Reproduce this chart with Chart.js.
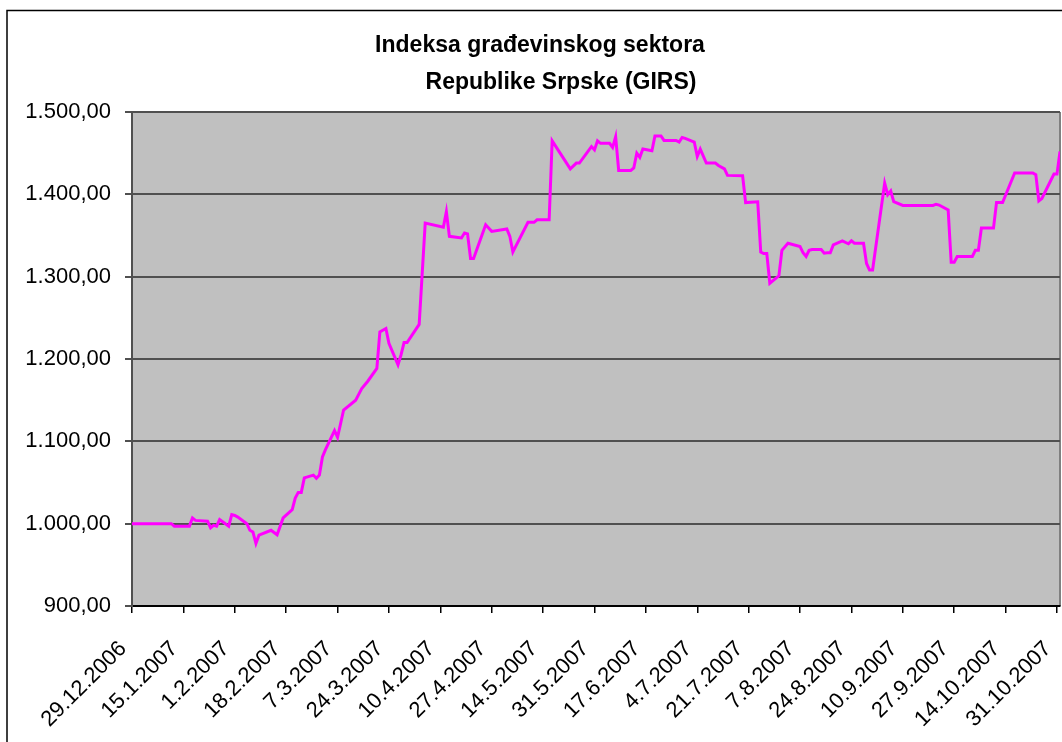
<!DOCTYPE html>
<html>
<head>
<meta charset="utf-8">
<script src="https://cdn.jsdelivr.net/npm/chart.js@4.4.1/dist/chart.umd.min.js"></script>
<style>
  html, body { margin: 0; padding: 0; background: #fff; }
  #wrap { width: 1062px; height: 742px; }
</style>
</head>
<body>
<div id="wrap"><canvas id="girs" width="1062" height="742"></canvas></div>
<script>
// GIRS index (trading days only, the axis is by calendar day)
const dates = [
  '29.12.2006', '11.1.2007', '12.1.2007', '17.1.2007', '18.1.2007', '19.1.2007', '23.1.2007', '24.1.2007',
  '25.1.2007', '26.1.2007', '27.1.2007', '30.1.2007', '31.1.2007', '1.2.2007', '2.2.2007', '5.2.2007',
  '6.2.2007', '7.2.2007', '8.2.2007', '9.2.2007', '13.2.2007', '15.2.2007', '17.2.2007', '20.2.2007',
  '21.2.2007', '22.2.2007', '23.2.2007', '24.2.2007', '27.2.2007', '28.2.2007', '1.3.2007', '2.3.2007',
  '3.3.2007', '6.3.2007', '7.3.2007', '9.3.2007', '13.3.2007', '14.3.2007', '15.3.2007', '17.3.2007',
  '20.3.2007', '21.3.2007', '23.3.2007', '24.3.2007', '27.3.2007', '28.3.2007', '29.3.2007', '30.3.2007',
  '3.4.2007', '5.4.2007', '11.4.2007', '12.4.2007', '13.4.2007', '17.4.2007', '18.4.2007', '19.4.2007',
  '20.4.2007', '21.4.2007', '25.4.2007', '27.4.2007', '2.5.2007', '3.5.2007', '4.5.2007', '9.5.2007',
  '11.5.2007', '12.5.2007', '16.5.2007', '17.5.2007', '23.5.2007', '25.5.2007', '26.5.2007', '30.5.2007',
  '31.5.2007', '1.6.2007', '2.6.2007', '5.6.2007', '6.6.2007', '7.6.2007', '8.6.2007', '12.6.2007',
  '13.6.2007', '14.6.2007', '15.6.2007', '16.6.2007', '19.6.2007', '20.6.2007', '22.6.2007', '23.6.2007',
  '27.6.2007', '28.6.2007', '29.6.2007', '30.6.2007', '3.7.2007', '4.7.2007', '5.7.2007', '7.7.2007',
  '10.7.2007', '11.7.2007', '13.7.2007', '14.7.2007', '19.7.2007', '20.7.2007', '24.7.2007', '25.7.2007',
  '26.7.2007', '27.7.2007', '28.7.2007', '31.7.2007', '1.8.2007', '3.8.2007', '7.8.2007', '8.8.2007',
  '9.8.2007', '10.8.2007', '11.8.2007', '14.8.2007', '15.8.2007', '16.8.2007', '17.8.2007', '18.8.2007',
  '21.8.2007', '23.8.2007', '24.8.2007', '25.8.2007', '28.8.2007', '29.8.2007', '30.8.2007', '31.8.2007',
  '4.9.2007', '5.9.2007', '6.9.2007', '7.9.2007', '10.9.2007', '20.9.2007', '21.9.2007', '22.9.2007',
  '25.9.2007', '26.9.2007', '27.9.2007', '28.9.2007', '3.10.2007', '4.10.2007', '5.10.2007', '6.10.2007',
  '10.10.2007', '11.10.2007', '13.10.2007', '17.10.2007', '23.10.2007', '24.10.2007', '25.10.2007', '26.10.2007',
  '30.10.2007', '31.10.2007', '1.11.2007'
];
const values = [
  1000, 1000, 997, 997, 1007, 1004, 1003, 995,
  998, 997, 1005, 997, 1011, 1010, 1008, 1000,
  992, 990, 976, 986, 992, 986.5, 1007, 1017,
  1031, 1038, 1038, 1055.6, 1059, 1055, 1059, 1081,
  1090, 1113, 1105, 1138, 1150, 1157, 1164, 1173,
  1188.6, 1233, 1237, 1219, 1193, 1205, 1220, 1220,
  1242, 1365, 1360, 1379, 1349, 1347, 1353, 1352,
  1322, 1322, 1363, 1355, 1358, 1349, 1330, 1366,
  1366, 1369, 1369, 1465, 1431, 1438, 1438, 1458,
  1454, 1465, 1462, 1462, 1457, 1470, 1429, 1429,
  1432, 1450, 1445, 1455, 1453, 1471, 1471, 1465.5,
  1465.5, 1463.5, 1469, 1468, 1463.5, 1446, 1455, 1438,
  1438, 1435, 1431, 1423, 1422.5, 1390, 1391, 1330,
  1328, 1328, 1292, 1301, 1332, 1340.6, 1336.5, 1329,
  1324.5, 1332, 1333, 1333, 1328.5, 1329, 1329, 1338.6,
  1343.5, 1340, 1343.5, 1340.6, 1340.6, 1316, 1308, 1308,
  1413.6, 1399.5, 1404, 1391, 1386.5, 1386.5, 1388, 1387,
  1381, 1317.5, 1317.5, 1324.5, 1324.5, 1332, 1332, 1359,
  1359, 1390, 1390, 1426, 1426, 1424, 1392, 1395,
  1424.6, 1424.6, 1452
];
const tickLabels = [
  '29.12.2006', '15.1.2007', '1.2.2007', '18.2.2007', '7.3.2007', '24.3.2007', '10.4.2007',
  '27.4.2007', '14.5.2007', '31.5.2007', '17.6.2007', '4.7.2007', '21.7.2007', '7.8.2007',
  '24.8.2007', '10.9.2007', '27.9.2007', '14.10.2007', '31.10.2007'
];
const chartTitle = ['Indeksa građevinskog sektora', 'Republike Srpske (GIRS)'];

function dayOf(s) {
  const [d, m, y] = s.split('.').map(Number);
  return Date.UTC(y, m - 1, d) / 864e5;
}
const day0 = dayOf(dates[0]);
const points = dates.map((s, i) => ({ x: dayOf(s) - day0, y: values[i] }));
const tickPos = {};
tickLabels.forEach(l => { tickPos[dayOf(l) - day0] = l; });

function fmtNum(v) {
  const [i, f] = v.toFixed(2).split('.');
  return i.replace(/\B(?=(\d{3})+(?!\d))/g, '.') + ',' + f;
}

const FONT = "'Liberation Sans', Arial, sans-serif";

const frame = {
  id: 'frame',
  beforeDraw(chart) {
    const { ctx, chartArea: a } = chart;
    ctx.save();
    ctx.fillStyle = '#c0c0c0';
    ctx.fillRect(a.left, a.top, a.right - a.left, a.bottom - a.top);
    ctx.strokeStyle = '#808080';
    ctx.lineWidth = 2;
    ctx.beginPath();
    ctx.moveTo(a.right, a.top);
    ctx.lineTo(a.right, a.bottom);
    ctx.stroke();
    ctx.restore();
  },
  afterDraw(chart) {
    const ctx = chart.ctx;
    ctx.save();
    ctx.strokeStyle = '#000';
    ctx.lineWidth = 1.5;
    ctx.strokeRect(7, 10.5, 1070, 760);
    ctx.fillStyle = '#000';
    ctx.font = 'bold 23px ' + FONT;
    ctx.textAlign = 'center';
    ctx.textBaseline = 'middle';
    ctx.fillText(chartTitle[0], 540, 46);
    ctx.fillText(chartTitle[1], 561, 83);
    ctx.restore();
  }
};

new Chart(document.getElementById('girs'), {
  type: 'line',
  data: {
    datasets: [{
      data: points,
      borderColor: '#ff00ff',
      borderWidth: 3,
      pointRadius: 0,
      tension: 0,
      fill: false
    }]
  },
  options: {
    responsive: false,
    animation: false,
    layout: { padding: { left: 7, top: 112, right: 2, bottom: 0 } },
    plugins: { legend: { display: false }, tooltip: { enabled: false } },
    scales: {
      x: {
        type: 'linear',
        min: 0,
        max: points[points.length - 1].x,
        afterBuildTicks: s => { s.ticks = tickLabels.map(l => ({ value: dayOf(l) - day0 })); },
        afterFit: s => { s.height = 136; s.paddingLeft = 0; s.paddingRight = 0; },
        grid: { drawOnChartArea: false, color: '#000', lineWidth: 1.5, tickLength: 7 },
        border: { color: '#000', width: 2 },
        ticks: {
          autoSkip: false,
          minRotation: 45,
          maxRotation: 45,
          padding: 23,
          labelOffset: -9,
          color: '#000',
          font: { family: FONT, size: 22 },
          callback: v => tickPos[v]
        }
      },
      y: {
        min: 900,
        max: 1500,
        afterFit: s => { s.width = 125; },
        grid: { color: '#505050', lineWidth: 2, tickLength: 7 },
        border: { color: '#505050', width: 2 },
        ticks: {
          stepSize: 100,
          padding: 14,
          color: '#000',
          font: { family: FONT, size: 22 },
          callback: v => fmtNum(v)
        }
      }
    }
  },
  plugins: [frame]
});
</script>
</body>
</html>
